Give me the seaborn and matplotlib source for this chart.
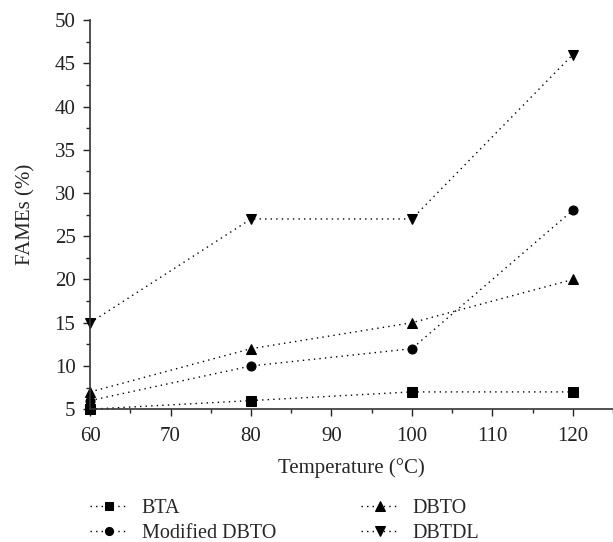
import pandas as pd
import matplotlib
matplotlib.use("Agg")
import matplotlib.pyplot as plt
import seaborn as sns
from matplotlib.ticker import MultipleLocator

# data
temperature = [60, 80, 100, 120]
bta = [5, 6, 7, 7]
modified_dbto = [6, 10, 12, 28]
dbto = [7, 12, 15, 20]
dbtdl = [15, 27, 27, 46]

series = ["BTA", "Modified DBTO", "DBTO", "DBTDL"]
values = [bta, modified_dbto, dbto, dbtdl]
markers = ["s", "o", "^", "v"]

rows = []
for name, vals in zip(series, values):
    for t, v in zip(temperature, vals):
        rows.append({"Temperature": t, "FAMEs": v, "Catalyst": name})
df = pd.DataFrame(rows)

sns.set_style("ticks")
plt.rcParams['font.family'] = ['Liberation Serif', 'DejaVu Serif']

fig = plt.figure(figsize=(6.13, 5.42), dpi=100)
ax = fig.add_axes([0.147, 0.245, 0.853, 0.718])

for name, m in zip(series, markers):
    sub = df[df.Catalyst == name]
    ms = 6.5 if m in ("s", "o") else 7.5
    sns.lineplot(data=sub, x="Temperature", y="FAMEs", ax=ax, color="black",
                 linestyle=(0, (1, 3)), linewidth=1.0, marker=m, markersize=ms,
                 markeredgecolor="black", label=name, clip_on=False)

ax.set_xlim(60, 125)
ax.set_ylim(5, 50)
ax.xaxis.set_major_locator(MultipleLocator(10))
ax.xaxis.set_minor_locator(MultipleLocator(5))
ax.yaxis.set_major_locator(MultipleLocator(5))
ax.yaxis.set_minor_locator(MultipleLocator(2.5))
ax.tick_params(which="major", length=5, width=1, labelsize=15, colors="#222222")
ax.tick_params(which="minor", length=3, width=1)
ax.tick_params(axis="x", which="major", pad=7.5)
ax.tick_params(axis="y", which="major", pad=5.5)
sns.despine(ax=ax)
for s in ["left", "bottom"]:
    ax.spines[s].set_color("#333333")
    ax.spines[s].set_linewidth(1.2)

ax.set_xlabel("Temperature (°C)", fontsize=15, labelpad=9)
ax.set_ylabel("FAMEs (%)", fontsize=15, labelpad=14)

ax.legend(loc="upper left", bbox_to_anchor=(-0.023, -0.2), ncol=2, frameon=False,
          fontsize=14.5, handlelength=1.85, columnspacing=4.25, labelspacing=0.3,
          handletextpad=0.7, borderpad=0.1, markerscale=0.9)

fig.savefig("out.png", dpi=100)
